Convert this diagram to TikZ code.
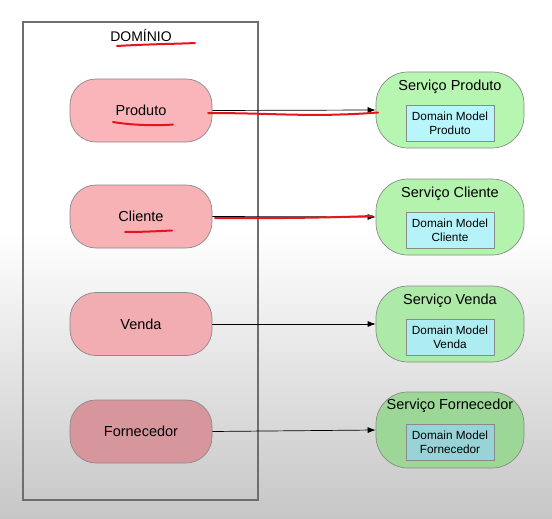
\documentclass[tikz,border=0pt]{standalone}
\usepackage{fontspec}
\setmainfont{Liberation Sans}
\usetikzlibrary{arrows.meta}
\definecolor{bgbot}{HTML}{C6C6C6}
\definecolor{boxline}{HTML}{6E6E6E}
\definecolor{nodeline}{HTML}{8A8A8A}
\definecolor{pinkA}{HTML}{F9B5B9}
\definecolor{pinkB}{HTML}{F7B2B6}
\definecolor{pinkC}{HTML}{F1ADB2}
\definecolor{pinkD}{HTML}{D6969B}
\definecolor{greenA}{HTML}{B7F6B1}
\definecolor{greenB}{HTML}{B4F3AE}
\definecolor{greenC}{HTML}{ADEAA8}
\definecolor{greenD}{HTML}{9CD797}
\definecolor{cyanA}{HTML}{B8F6FC}
\definecolor{cyanB}{HTML}{B5F3F8}
\definecolor{cyanC}{HTML}{ADECF1}
\definecolor{cyanD}{HTML}{98D3D8}
\definecolor{annot}{HTML}{E8141C}
\begin{document}
\begin{tikzpicture}[x=1pt,y=-1pt,
  entidade/.style={draw=nodeline, line width=0.7pt, rounded corners=26pt,
    minimum width=142pt, minimum height=63pt, inner sep=0pt,
    font=\fontsize{14.5}{17}\selectfont},
  servico/.style={draw=nodeline, line width=0.7pt, rounded corners=32pt,
    minimum width=148pt, minimum height=76pt, inner sep=0pt},
  stitulo/.style={font=\fontsize{14.5}{17}\selectfont, inner sep=0pt},
  modelo/.style={draw=nodeline, line width=0.8pt, minimum width=88pt,
    minimum height=36pt, inner sep=0pt, align=center,
    font=\fontsize{11.8}{14}\selectfont},
  seta/.style={draw=black, line width=0.7pt, -{Latex[length=8pt,width=6pt]}},
  risco/.style={draw=annot, line width=2pt, line cap=round}
]
\useasboundingbox (0,0) rectangle (552,519);
\fill[white] (0,0) rectangle (552,230);
\shade[top color=white, bottom color=bgbot] (0,230) rectangle (552,519);

% domain box
\node[draw=boxline, line width=1.3pt, minimum width=235pt, minimum height=478pt, inner sep=0pt] (dominio) at (140.5,261) {};
\node[font=\fontsize{14}{17}\selectfont, inner sep=0pt] (titulo) at (141,35) {DOMÍNIO};

% entities
\node[entidade, fill=pinkA] (produto) at (141,110.5) {Produto};
\node[entidade, fill=pinkB] (cliente) at (141,216.5) {Cliente};
\node[entidade, fill=pinkC] (venda) at (141,324) {Venda};
\node[entidade, fill=pinkD] (fornecedor) at (141,431.5) {Fornecedor};

% services
\node[servico, fill=greenA] (sprod) at (450,110) {};
\node[stitulo] (tprod) at (450,87) {Serviço Produto};
\node[modelo, fill=cyanA] (mprod) at (450,123) {Domain Model\\Produto};

\node[servico, fill=greenB] (scli) at (450,217) {};
\node[stitulo] (tcli) at (450,194) {Serviço Cliente};
\node[modelo, fill=cyanB] (mcli) at (450,230) {Domain Model\\Cliente};

\node[servico, fill=greenC] (svenda) at (450,324) {};
\node[stitulo] (tvenda) at (450,301) {Serviço Venda};
\node[modelo, fill=cyanC] (mvenda) at (450,337) {Domain Model\\Venda};

\node[servico, fill=greenD] (sforn) at (450,430) {};
\node[stitulo] (tforn) at (450,406) {Serviço Fornecedor};
\node[modelo, fill=cyanD] (mforn) at (450,442) {Domain Model\\Fornecedor};

% connectors
\draw[seta] (produto.east) -- (sprod.west);
\draw[seta] (cliente.east) -- (scli.west);
\draw[seta] (venda.east) -- (svenda.west);
\draw[seta] (fornecedor.east) -- (sforn.west);

% red annotations
\draw[risco] (117,46) .. controls (150,44) and (175,44) .. (195,43);
\draw[risco] (113,122) .. controls (130,125) and (155,126) .. (173,124.5);
\draw[risco] (208,113) .. controls (260,113) and (300,116) .. (340,114.5) .. controls (360,114) and (370,113) .. (378,112.5);
\draw[risco] (125,232) .. controls (145,232) and (160,231) .. (172,230.5);
\draw[risco] (215,218) .. controls (260,218.5) and (320,218) .. (372,216);
\end{tikzpicture}
\end{document}
